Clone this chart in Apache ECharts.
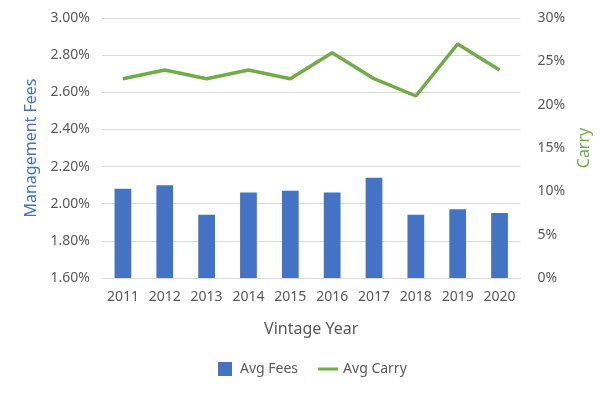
<!DOCTYPE html>
<html><head><meta charset="utf-8">
<script src="https://cdn.jsdelivr.net/npm/echarts@6/dist/echarts.min.js"></script>
<style>html,body{margin:0;padding:0;background:#fff}#c{width:600px;height:396px}</style>
</head><body><div id="c"></div>
<script>
const years = ['2011','2012','2013','2014','2015','2016','2017','2018','2019','2020'];
const avgFees = [2.08, 2.10, 1.94, 2.06, 2.07, 2.06, 2.14, 1.94, 1.97, 1.95];
const avgCarry = [23, 24, 23, 24, 23, 26, 23, 21, 27, 24];

const font = 'Noto Sans';
const txt = '#595959';
const chart = echarts.init(document.getElementById('c'), null, {renderer:'canvas'});
chart.setOption({
  animation:false,
  textStyle:{fontFamily:font},
  grid:{left:102, right:79, top:18, bottom:118},
  legend:{
    bottom:15, left:213, itemGap:20, itemWidth:20, itemHeight:14,
    textStyle:{color:txt, fontSize:14, fontFamily:font},
    data:[{name:'Avg Fees', icon:'path://M0,0 L14,0 L14,14 L0,14 Z'}, {name:'Avg Carry', icon:'path://M0,0 L20,0 L20,3 L0,3 Z'}]
  },
  xAxis:{
    type:'category', data:years,
    name:'Vintage Year', nameLocation:'middle', nameGap:43,
    nameTextStyle:{color:txt, fontSize:16, fontFamily:font},
    axisLine:{lineStyle:{color:'#D9D9D9'}}, axisTick:{show:false},
    axisLabel:{color:txt, fontSize:14, margin:12, fontFamily:font}
  },
  yAxis:[{
    type:'value', min:1.6, max:3.0, interval:0.2,
    name:'Management Fees', nameLocation:'middle', nameGap:63, nameRotate:90,
    nameTextStyle:{color:'#4472C4', fontSize:16, fontFamily:font},
    axisLabel:{color:txt, fontSize:14, margin:12, fontFamily:font, formatter:v=>v.toFixed(2)+'%'},
    splitLine:{lineStyle:{color:'#D9D9D9'}}, axisLine:{show:false}, axisTick:{show:false}
  },{
    type:'value', min:0, max:30, interval:5,
    name:'Carry', nameLocation:'middle', nameGap:46, nameRotate:90,
    nameTextStyle:{color:'#70AD47', fontSize:16, fontFamily:font},
    axisLabel:{color:txt, fontSize:14, margin:17, fontFamily:font, formatter:v=>v+'%'},
    splitLine:{show:false}, axisLine:{show:false}, axisTick:{show:false}
  }],
  series:[{
    name:'Avg Fees', type:'bar', data:avgFees, yAxisIndex:0, barWidth:'40%',
    itemStyle:{color:'#4472C4'}
  },{
    name:'Avg Carry', type:'line', data:avgCarry, yAxisIndex:1, symbol:'none',
    lineStyle:{color:'#70AD47', width:3.5}, itemStyle:{color:'#70AD47'}
  }]
});
</script></body></html>
